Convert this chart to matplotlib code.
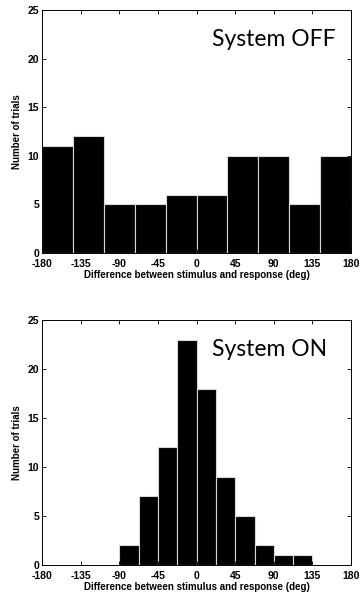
import numpy as np
import matplotlib.pyplot as plt

# bin edges and counts
off_edges = [-180, -144, -108, -72, -36, 0, 36, 72, 108, 144, 180]
off_counts = [11, 12, 5, 5, 6, 6, 10, 10, 5, 10]

on_edges = [-90, -67.5, -45, -22.5, 0, 22.5, 45, 67.5, 90, 112.5, 135]
on_counts = [2, 7, 12, 23, 18, 9, 5, 2, 1, 1]

xticks = [-180, -135, -90, -45, 0, 45, 90, 135, 180]
yticks = [0, 5, 10, 15, 20, 25]

plt.rcParams['font.family'] = ['Liberation Sans', 'DejaVu Sans']
plt.rcParams['axes.unicode_minus'] = False

fig = plt.figure(figsize=(3.62, 5.98), dpi=100)
ax1 = fig.add_axes([0.116, 0.577, 0.854, 0.406])
ax2 = fig.add_axes([0.116, 0.055, 0.854, 0.41])


def draw(ax, edges, counts, title):
    edges = np.array(edges)
    ax.bar(edges[:-1], counts, width=np.diff(edges), align='edge',
           color='black', edgecolor='#d8d8d8', linewidth=0.8)
    ax.set_xlim(-180, 180)
    ax.set_ylim(0, 25)
    ax.set_xticks(xticks)
    ax.set_yticks(yticks)
    ax.tick_params(direction='in', top=True, right=True, length=3,
                   labelsize=7.5, width=0.6)
    ax.tick_params(axis='x', pad=4.5)
    ax.tick_params(axis='y', pad=2)
    for lab in ax.get_xticklabels() + ax.get_yticklabels():
        lab.set_fontweight('bold')
    for s in ax.spines.values():
        s.set_linewidth(0.7)
    ax.set_xlabel("Difference between stimulus and response (deg)",
                  fontsize=7, fontweight='bold', labelpad=0.5)
    ax.set_ylabel("Number of trials", fontsize=7, fontweight='bold', labelpad=4)
    ax.text(0.55, 0.88, title, transform=ax.transAxes, ha='left', va='center',
            fontsize=16.5, family='Lato')


draw(ax1, off_edges, off_counts, "System OFF")
draw(ax2, on_edges, on_counts, "System ON")

plt.savefig("out.png", dpi=100)
